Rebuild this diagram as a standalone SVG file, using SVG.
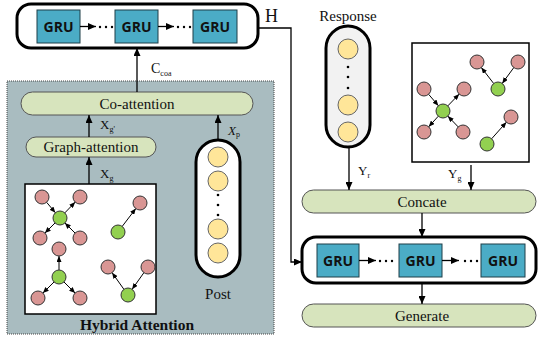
<svg xmlns="http://www.w3.org/2000/svg" width="538" height="337" viewBox="0 0 538 337">
  <style>
    .serif { font-family: "Liberation Serif", "Times New Roman", serif; fill: #111; }
    .lbl { font-size: 15px; text-anchor: middle; }
    .sub { font-size: 8px; }
    .var { font-size: 13px; }
    .gru-box { fill: #4bacc6; stroke: #1e3f48; stroke-width: 1; }
    .gru-txt { font-family: "Open Sans", "DejaVu Sans", sans-serif; font-weight: bold; font-size: 14px; fill: #111; text-anchor: middle; }
    .container { fill: #fff; stroke: #000; stroke-width: 3; }
    .pill { fill: #d7e4bd; stroke: #555; stroke-width: 1; }
    .seq { stroke: #000; stroke-width: 3; }
    .tok { fill: #ffe699; stroke: #666; stroke-width: 1; }
    .pink { fill: #d99694; stroke: #333; stroke-width: 1; }
    .green { fill: #92d050; stroke: #333; stroke-width: 1; }
    .line { fill: none; stroke: #000; stroke-width: 1.3; }
    .edge { fill: none; stroke: #000; stroke-width: 1; marker-end: url(#ah-s); }
    .arr { marker-end: url(#ah); }
    .dot { fill: #000; }
    .gbox { fill: #fff; stroke: #000; stroke-width: 1.5; }
  </style>
  <defs>
    <marker id="ah" markerUnits="userSpaceOnUse" markerWidth="8" markerHeight="7" refX="8" refY="3.5" orient="auto">
      <path d="M0,0 L8,3.5 L0,7 z" fill="#000"/>
    </marker>
    <marker id="ah-s" markerUnits="userSpaceOnUse" markerWidth="6" markerHeight="5" refX="6" refY="2.5" orient="auto">
      <path d="M0,0 L6,2.5 L0,5 z" fill="#000"/>
    </marker>
  </defs>

  <!-- Hybrid attention panel -->
  <g id="hybrid-attention">
    <rect x="7" y="81" width="267" height="253" fill="#a9bcc0" stroke="#444" stroke-width="1" stroke-dasharray="1 1"/>
    <text class="serif" x="137" y="330" font-size="15.5" font-weight="bold" text-anchor="middle">Hybrid Attention</text>
  </g>

  <!-- Encoder GRU chain -->
  <g id="encoder-gru">
    <rect class="container" x="17" y="4" width="241" height="44" rx="14"/>
    <rect class="gru-box" x="37" y="10" width="43" height="33"/>
    <text class="gru-txt" x="58.5" y="31.5">GRU</text>
    <rect class="gru-box" x="115" y="10" width="43" height="33"/>
    <text class="gru-txt" x="136.5" y="31.5">GRU</text>
    <rect class="gru-box" x="193" y="10" width="44" height="33"/>
    <text class="gru-txt" x="215" y="31.5">GRU</text>
    <line class="line arr" x1="80" y1="26.5" x2="96" y2="26.5" stroke-width="1"/>
    <circle class="dot" cx="100" cy="27" r="1.2"/><circle class="dot" cx="106" cy="27" r="1.2"/><circle class="dot" cx="112" cy="27" r="1.2"/>
    <line class="line arr" x1="158" y1="26.5" x2="174" y2="26.5" stroke-width="1"/>
    <circle class="dot" cx="178" cy="27" r="1.2"/><circle class="dot" cx="184" cy="27" r="1.2"/><circle class="dot" cx="190" cy="27" r="1.2"/>
    <text class="serif" x="265" y="22" font-size="18">H</text>
  </g>

  <!-- Co-attention -->
  <g id="co-attention">
    <rect class="pill" x="21" y="92" width="232" height="23" rx="11.5"/>
    <text class="serif lbl" x="137" y="108.5">Co-attention</text>
  </g>

  <!-- Graph-attention -->
  <g id="graph-attention">
    <rect class="pill" x="26" y="137" width="130" height="20" rx="10"/>
    <text class="serif lbl" x="91" y="152">Graph-attention</text>
  </g>

  <!-- Post token sequence -->
  <g id="post">
    <rect class="seq" x="196" y="140" width="44" height="137" rx="22" fill="#fff"/>
    <circle class="tok" cx="218" cy="157" r="10"/>
    <circle class="tok" cx="218" cy="181" r="10"/>
    <circle class="dot" cx="218" cy="195" r="1.3"/>
    <circle class="dot" cx="218" cy="205" r="1.3"/>
    <circle class="dot" cx="218" cy="215" r="1.3"/>
    <circle class="tok" cx="218" cy="229" r="10"/>
    <circle class="tok" cx="218" cy="253" r="10"/>
    <text class="serif lbl" x="218" y="299">Post</text>
  </g>

  <!-- Post graph -->
  <g id="post-graph">
    <rect class="gbox" x="25" y="184" width="131" height="130"/>
    <line class="edge" x1="46.6" y1="202.3" x2="55.4" y2="212.7"/>
    <line class="edge" x1="64.8" y1="212.9" x2="75.2" y2="202.1"/>
    <line class="edge" x1="55.1" y1="222.9" x2="44.9" y2="233.1"/>
    <line class="edge" x1="75.1" y1="233.1" x2="64.9" y2="222.9"/>
    <line class="edge" x1="122.2" y1="226.4" x2="135.8" y2="208.6"/>
    <line class="edge" x1="59" y1="270" x2="59" y2="256"/>
    <line class="edge" x1="54.1" y1="281.9" x2="42.9" y2="293.1"/>
    <line class="edge" x1="63.9" y1="281.9" x2="75.1" y2="293.1"/>
    <line class="edge" x1="123.9" y1="289.3" x2="112.1" y2="272.7"/>
    <line class="edge" x1="143.9" y1="272.7" x2="132.1" y2="289.3"/>
    <circle class="pink" cx="42" cy="197" r="7"/>
    <circle class="pink" cx="80" cy="197" r="7"/>
    <circle class="green" cx="60" cy="218" r="7"/>
    <circle class="pink" cx="40" cy="238" r="7"/>
    <circle class="pink" cx="80" cy="238" r="7"/>
    <circle class="pink" cx="140" cy="203" r="7"/>
    <circle class="green" cx="118" cy="232" r="7"/>
    <circle class="pink" cx="59" cy="249" r="7"/>
    <circle class="green" cx="59" cy="277" r="7"/>
    <circle class="pink" cx="38" cy="298" r="7"/>
    <circle class="pink" cx="80" cy="298" r="7"/>
    <circle class="pink" cx="108" cy="267" r="7"/>
    <circle class="pink" cx="148" cy="267" r="7"/>
    <circle class="green" cx="128" cy="295" r="7"/>
  </g>

  <!-- Response token sequence -->
  <g id="response">
    <text class="serif lbl" x="348" y="21">Response</text>
    <rect class="seq" x="326" y="26" width="44" height="121" rx="22" fill="#f2f2f2"/>
    <circle class="tok" cx="348" cy="49" r="10"/>
    <circle class="dot" cx="348" cy="67" r="1.3"/>
    <circle class="dot" cx="348" cy="77" r="1.3"/>
    <circle class="dot" cx="348" cy="88" r="1.3"/>
    <circle class="tok" cx="348" cy="105" r="10"/>
    <circle class="tok" cx="348" cy="132" r="10"/>
  </g>

  <!-- Response graph -->
  <g id="response-graph">
    <rect class="gbox" x="412" y="43" width="117" height="119"/>
    <line class="edge" x1="493.7" y1="83.5" x2="481.3" y2="67.5"/>
    <line class="edge" x1="513.8" y1="67.6" x2="502.2" y2="83.4"/>
    <line class="edge" x1="428.6" y1="94.3" x2="438.4" y2="105.7"/>
    <line class="edge" x1="447.8" y1="105.9" x2="459.2" y2="94.1"/>
    <line class="edge" x1="438.3" y1="116.2" x2="428.7" y2="126.8"/>
    <line class="edge" x1="458.2" y1="126.9" x2="447.8" y2="116.1"/>
    <line class="edge" x1="491.6" y1="138.8" x2="506.4" y2="122.2"/>
    <circle class="pink" cx="477" cy="62" r="7"/>
    <circle class="pink" cx="518" cy="62" r="7"/>
    <circle class="green" cx="498" cy="89" r="7"/>
    <circle class="pink" cx="424" cy="89" r="7"/>
    <circle class="pink" cx="464" cy="89" r="7"/>
    <circle class="green" cx="443" cy="111" r="7"/>
    <circle class="pink" cx="424" cy="132" r="7"/>
    <circle class="pink" cx="463" cy="132" r="7"/>
    <circle class="pink" cx="511" cy="117" r="7"/>
    <circle class="green" cx="487" cy="144" r="7"/>
  </g>

  <!-- Concate -->
  <g id="concate">
    <rect class="pill" x="302" y="190" width="234" height="23" rx="11.5"/>
    <text class="serif lbl" x="422" y="206.5">Concate</text>
  </g>

  <!-- Decoder GRU chain -->
  <g id="decoder-gru">
    <rect class="container" x="302" y="237" width="234" height="46" rx="14"/>
    <rect class="gru-box" x="317" y="244" width="42" height="33"/>
    <text class="gru-txt" x="338" y="265.5">GRU</text>
    <rect class="gru-box" x="399" y="244" width="43" height="33"/>
    <text class="gru-txt" x="420.5" y="265.5">GRU</text>
    <rect class="gru-box" x="481" y="244" width="44" height="33"/>
    <text class="gru-txt" x="503" y="265.5">GRU</text>
    <line class="line arr" x1="359" y1="260.5" x2="376" y2="260.5" stroke-width="1"/>
    <circle class="dot" cx="380" cy="261" r="1.2"/><circle class="dot" cx="386" cy="261" r="1.2"/><circle class="dot" cx="392" cy="261" r="1.2"/>
    <line class="line arr" x1="442" y1="260.5" x2="459" y2="260.5" stroke-width="1"/>
    <circle class="dot" cx="465" cy="261" r="1.2"/><circle class="dot" cx="471" cy="261" r="1.2"/><circle class="dot" cx="477" cy="261" r="1.2"/>
  </g>

  <!-- Generate -->
  <g id="generate">
    <rect class="pill" x="302" y="304" width="234" height="23" rx="11.5"/>
    <text class="serif lbl" x="422" y="320.5">Generate</text>
  </g>

  <!-- Connectors -->
  <g id="connectors">
    <line class="line arr" x1="137" y1="92" x2="137" y2="48"/>
    <line class="line arr" x1="89" y1="137" x2="89" y2="115"/>
    <line class="line arr" x1="89" y1="184" x2="89" y2="157"/>
    <line class="line arr" x1="218" y1="140" x2="218" y2="115"/>
    <polyline class="line arr" points="258,28 291,28 291,262 302,262"/>
    <line class="line arr" x1="349" y1="147" x2="349" y2="190"/>
    <line class="line arr" x1="471" y1="165" x2="471" y2="190"/>
    <line class="line arr" x1="422" y1="213" x2="422" y2="237"/>
    <line class="line arr" x1="422" y1="283" x2="422" y2="304"/>
  </g>

  <!-- Connector labels -->
  <g id="labels">
    <text class="serif" x="151" y="72.5" font-size="14">C<tspan class="sub" dy="3">coa</tspan></text>
    <text class="serif var" x="100" y="129">X<tspan class="sub" dy="3">g'</tspan></text>
    <text class="serif var" x="100" y="178">X<tspan class="sub" dy="3">g</tspan></text>
    <text class="serif var" x="228" y="135" font-style="italic">X<tspan class="sub" dy="2" font-style="normal">p</tspan></text>
    <text class="serif var" x="358" y="175">Y<tspan class="sub" dy="3">r</tspan></text>
    <text class="serif var" x="448" y="178">Y<tspan class="sub" dy="3">g</tspan></text>
  </g>
</svg>
